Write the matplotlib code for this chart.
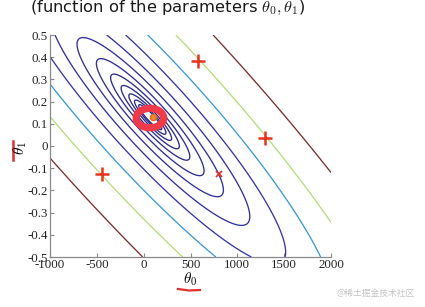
import numpy as np
import matplotlib
matplotlib.use('Agg')
import matplotlib.pyplot as plt
from matplotlib.patches import Ellipse

plt.rcParams['mathtext.fontset'] = 'cm'

# ---- data ----
theta0_best = 70.0          # location of the cost minimum
theta1_best = 0.13
feature_mean = 2000.0       # sets the tilt of the ellipses
feature_var = 752700.0      # sets the elongation of the ellipses
levels = [2400, 4470, 8260, 15300, 28300, 52300, 96700, 179000, 331000,
          612000, 1133000, 2095000]
level_colors = ['#2a2a8c', '#2a2a8c', '#2a2a8c', '#2b2b8e', '#2c2c90', '#2e2e94',
                '#303098', '#3232a0', '#3636aa', '#3b9bd8', '#b5de7c', '#7b2f2f']
x_ticks = [-1000, -500, 0, 500, 1000, 1500, 2000]
x_tick_labels = ['-1000', '-500', '0', '500', '1000', '1500', '2000']
y_ticks = [-0.5, -0.4, -0.3, -0.2, -0.1, 0, 0.1, 0.2, 0.3, 0.4, 0.5]
y_tick_labels = ['-0.5', '-0.4', '-0.3', '-0.2', '-0.1', '0', '0.1', '0.2', '0.3', '0.4', '0.5']
cross_theta0 = [580, 1295, -445]
cross_theta1 = [0.383, 0.036, -0.126]
small_x_theta0 = [804]
small_x_theta1 = [-0.126]
ring_theta0 = 67
ring_theta1 = 0.126
title_text = r'(function of the parameters $\theta_0, \theta_1$)'
watermark = '@稀土掘金技术社区'

# ---- figure ----
W, H = 425, 307
fig = plt.figure(figsize=(W / 100, H / 100), dpi=100)
ax = fig.add_axes([50 / W, 50 / H, 281 / W, 222 / H])

t0 = np.linspace(-1000, 2000, 500)
t1 = np.linspace(-0.5, 0.5, 500)
T0, T1 = np.meshgrid(t0, t1)
e0 = T0 - theta0_best
e1 = T1 - theta1_best
J = e0 ** 2 + 2 * feature_mean * e0 * e1 + (feature_mean ** 2 + feature_var) * e1 ** 2
ax.contour(T0, T1, J, levels=levels, colors=level_colors, linewidths=0.95)

ax.set_xlim(-1000, 2000)
ax.set_ylim(-0.5, 0.5)
ax.set_xticks(x_ticks)
ax.set_xticklabels(x_tick_labels)
ax.set_yticks(y_ticks)
ax.set_yticklabels(y_tick_labels)
for s in ['top', 'right']:
    ax.spines[s].set_visible(False)
for s in ['left', 'bottom']:
    ax.spines[s].set_color('#8a8a8a')
    ax.spines[s].set_linewidth(0.9)
ax.tick_params(direction='in', length=3, width=0.8, color='#8a8a8a',
               labelsize=9.3, labelcolor='#222222', pad=1.5)
for lab in ax.get_xticklabels() + ax.get_yticklabels():
    lab.set_family('Liberation Serif')

# hand-drawn annotations
ax.plot(cross_theta0, cross_theta1, linestyle='none', marker='+', markersize=10,
        mew=1.8, color='#e8321e', clip_on=False, zorder=5)
ax.plot(small_x_theta0, small_x_theta1, linestyle='none', marker='x', markersize=4,
        mew=1.3, color='#e03030', zorder=5)
ax.add_patch(Ellipse((ring_theta0, ring_theta1), width=27.5 / 0.09367, height=19.5 / 222,
                     fill=False, edgecolor='#f03a48', linewidth=5.2, zorder=6))
ax.plot([ring_theta0 + 30], [ring_theta1 + 0.004], marker='o', markersize=4.5,
        color='#f08a2a', mec='#e86a20', linestyle='none', zorder=7)

# labels
fig.text(190 / W, 1 - 279 / H, r'$\theta_0$', ha='center', va='center', fontsize=11)
fig.text(20 / W, 1 - 148 / H, r'$\theta_1$', ha='center', va='center', fontsize=11, rotation=90)
fig.text(168 / W, 1 - 12 / H, title_text, ha='center', va='baseline', fontsize=11.8,
         color='#1a1a1a', family='DejaVu Sans')
fig.text(376 / W, 1 - 293 / H, watermark, ha='center', va='center', fontsize=6.3,
         color='#c4c4c4', family=['Noto Sans CJK SC', 'DejaVu Sans'])

# red pen strokes next to axis labels
fig.add_artist(plt.Line2D([178 / W, 189 / W, 200 / W], [1 - 289 / H, 1 - 290.5 / H, 1 - 290 / H],
                          color='#e03030', linewidth=1.6))
fig.add_artist(plt.Line2D([13 / W, 13 / W], [1 - 141 / H, 1 - 160 / H],
                          color='#e03030', linewidth=1.8))

fig.savefig('out.png', dpi=100)
